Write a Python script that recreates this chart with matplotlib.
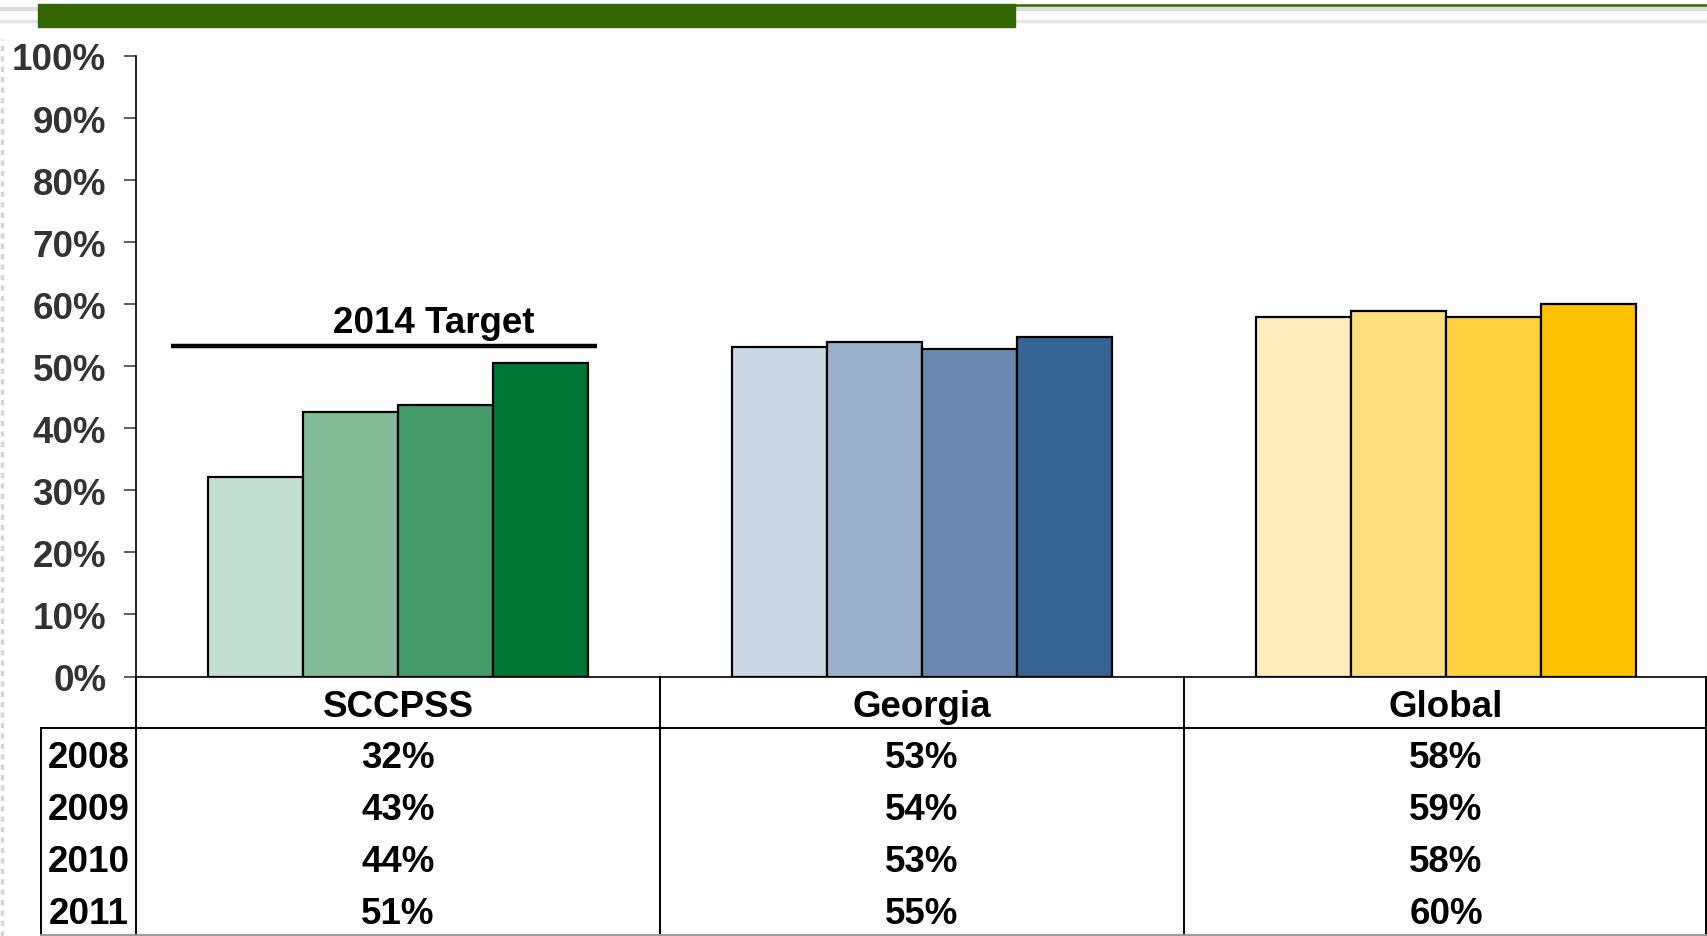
import matplotlib
matplotlib.use("agg")
import matplotlib.pyplot as plt
from matplotlib.lines import Line2D
from matplotlib.patches import Rectangle

# data
groups = ["SCCPSS", "Georgia", "Global"]
years = ["2008", "2009", "2010", "2011"]
sccpss = [32.1, 42.6, 43.7, 50.6]
georgia = [53.1, 53.9, 52.7, 54.7]
global_ = [57.9, 58.9, 58.0, 60.1]
target_2014 = 53.3
yticks = [0, 10, 20, 30, 40, 50, 60, 70, 80, 90, 100]

series = [sccpss, georgia, global_]
colors = [
    ["#C2DFD1", "#84BC9A", "#449B69", "#007635"],
    ["#CDD8E5", "#9AAFC9", "#6A89B0", "#376393"],
    ["#FFEDC0", "#FFDE80", "#FFD040", "#FFC000"],
]

plt.rcParams["font.family"] = ["Liberation Sans", "DejaVu Sans"]
plt.rcParams["font.weight"] = "bold"
FS = 26.5

W, H = 1708, 937
fig = plt.figure(figsize=(W / 100, H / 100), dpi=100)

# --- main bar axes ---
ax = fig.add_axes([136 / W, 1 - 677.5 / H, (W - 136) / W, (677.5 - 57) / H])
bw = 0.1815
for g, vals in enumerate(series):
    for i, v in enumerate(vals):
        x = g + 0.5 + (i - 1.5) * bw
        ax.bar(x, v, width=bw, color=colors[g][i], edgecolor="black",
               linewidth=1.6, zorder=3)

ax.plot([0.0665, 0.879], [target_2014, target_2014], color="black", lw=3.2,
        solid_capstyle="butt", zorder=4)
ax.text(0.568, 54.3, "2014 Target", ha="center", va="bottom", fontsize=FS,
        fontweight="bold", color="black")

ax.set_xlim(0, 3)
ax.set_ylim(0, 100)
ax.set_yticks(yticks)
ax.set_yticklabels([f"{t}%" for t in yticks])
ax.set_xticks([])
ax.tick_params(axis="y", direction="out", length=8.5, width=1.2,
               color="#444444", pad=13, labelsize=FS, labelcolor="#333333")
for s in ["top", "right"]:
    ax.spines[s].set_visible(False)
ax.spines["left"].set_linewidth(1.2)
ax.spines["bottom"].set_linewidth(1.2)

# --- data table below ---
tx0 = 41.4
tab = fig.add_axes([tx0 / W, 0, (W - tx0) / W, 259.5 / H])
tab.set_xlim(-(136 - tx0) / ((W - 136) / 3), 3)
tab.set_ylim(5, 0)
tab.axis("off")
lx = tab.get_xlim()[0]
lines = [
    ([lx, 3], [1, 1], "black"),
    ([0, 0], [0, 5], "black"),
    ([lx, lx], [1, 5], "black"),
    ([1, 1], [0, 5], "black"),
    ([2, 2], [0, 5], "black"),
    ([2.997, 2.997], [0, 5], "black"),
    ([lx, 3], [4.98, 4.98], "#999999"),
]
for xs, ys, c in lines:
    tab.add_line(Line2D(xs, ys, color=c, lw=1.4, clip_on=False))

dy = 0.07
for g, name in enumerate(groups):
    tab.text(g + 0.5, 0.5 + dy, name, ha="center", va="center", fontsize=FS,
             fontweight="bold", color="black")
    for r, v in enumerate(series[g]):
        tab.text(g + 0.5, r + 1.5 + dy, f"{v:.0f}%", ha="center", va="center",
                 fontsize=FS, fontweight="bold", color="black")
for r, y in enumerate(years):
    tab.text(lx / 2, r + 1.5 + dy, y, ha="center", va="center", fontsize=FS,
             fontweight="bold", color="black")

# --- slide decoration at the top ---
fig.add_artist(Line2D([0, 1], [1 - 10 / H, 1 - 10 / H], color="#DDDDDD",
                      lw=3, transform=fig.transFigure, zorder=1))
fig.add_artist(Line2D([0, 1], [1 - 21.5 / H, 1 - 21.5 / H], color="#E4E4E4",
                      lw=2.5, transform=fig.transFigure, zorder=1))
fig.add_artist(Line2D([1015 / W, 1], [1 - 6 / H, 1 - 6 / H], color="#336600",
                      lw=1.8, transform=fig.transFigure, zorder=2))
fig.add_artist(Rectangle((38 / W, 1 - 28.3 / H), (1015 - 38) / W, 23 / H,
                         color="#336600", transform=fig.transFigure, zorder=3))
fig.add_artist(Line2D([2 / W, 2 / W], [0, 1 - 40 / H], color="#D5D5D5",
                      lw=2.5, ls=(0, (1.5, 1.5)), transform=fig.transFigure))

fig.savefig("out.png", dpi=100)
plt.close(fig)
